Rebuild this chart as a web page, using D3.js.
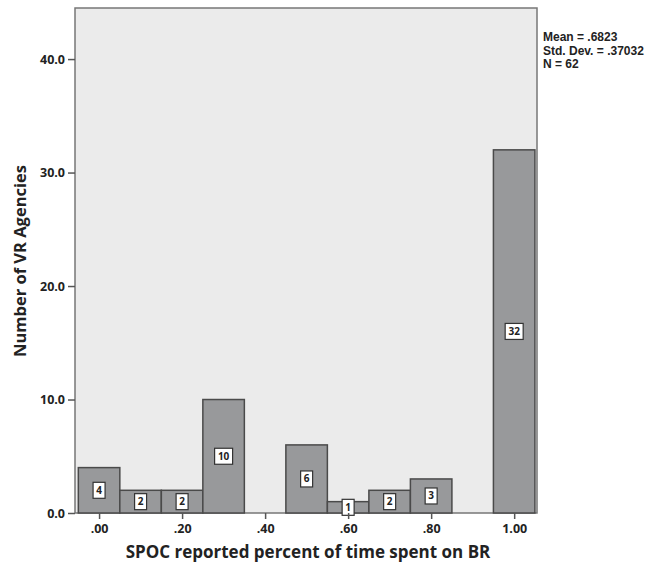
<!DOCTYPE html>
<meta charset="utf-8">
<style>
    html, body { margin: 0; padding: 0; background: #fff; }
    text { font-family: "Open Sans", "DejaVu Sans", sans-serif; font-weight: bold; fill: #222; }
</style>
<body>
<svg id="hist" width="659" height="566"></svg>
<script src="https://cdnjs.cloudflare.com/ajax/libs/d3/7.8.5/d3.min.js"></script>
<script>
  // bin centres and counts
  var binCenters = [0, 0.1, 0.2, 0.3, 0.4, 0.5, 0.6, 0.7, 0.8, 0.9, 1.0];
  var counts = [4, 2, 2, 10, 0, 6, 1, 2, 3, 0, 32];
  var xTicks = [0, 0.2, 0.4, 0.6, 0.8, 1.0];
  var xTickLabels = [".00", ".20", ".40", ".60", ".80", "1.00"];
  var yTicks = [0, 10, 20, 30, 40];
  var stats = ["Mean = .6823", "Std. Dev. = .37032", "N = 62"];

  var binWidth = 0.1;
  // (don't use "top" - it's window.top)
  var plotLeft = 75, plotRight = 537, plotTop = 8, plotBottom = 513;

  var svg = d3.select("#hist");

  var x = d3.scaleLinear().domain([-0.058, 1.055]).range([plotLeft, plotRight]);
  var y = d3.scaleLinear().domain([0, 44.5]).range([plotBottom, plotTop]);

  // plot panel
  svg.append("rect")
    .attr("x", plotLeft).attr("y", plotTop)
    .attr("width", plotRight - plotLeft).attr("height", plotBottom - plotTop)
    .attr("fill", "#ebebeb")
    .attr("stroke", "#777")
    .attr("stroke-width", 1.5);

  var data = binCenters.map(function (c, i) { return {c: c, n: counts[i]}; })
    .filter(function (d) { return d.n > 0; });

  svg.selectAll("rect.bar")
    .data(data)
    .enter().append("rect")
    .attr("class", "bar")
    .attr("x", function (d) { return x(d.c - binWidth / 2); })
    .attr("y", function (d) { return y(d.n); })
    .attr("width", function (d) { return x(d.c + binWidth / 2) - x(d.c - binWidth / 2); })
    .attr("height", function (d) { return y(0) - y(d.n); })
    .attr("fill", "#98999b")
    .attr("stroke", "#4a4a4a")
    .attr("stroke-width", 1.5);

  // count labels in white boxes
  var lab = svg.selectAll("g.lab")
    .data(data)
    .enter().append("g")
    .attr("class", "lab")
    .attr("transform", function (d) { return "translate(" + x(d.c) + "," + y(d.n / 2) + ")"; });

  lab.append("rect")
    .attr("x", function (d) { return d.n >= 10 ? -9 : -6; })
    .attr("y", -8)
    .attr("width", function (d) { return d.n >= 10 ? 18 : 12; })
    .attr("height", 16)
    .attr("fill", "#fff")
    .attr("stroke", "#333")
    .attr("stroke-width", 1.2);

  lab.append("text")
    .attr("text-anchor", "middle")
    .attr("dy", "0.35em")
    .style("font-size", "10px")
    .text(function (d) { return d.n; });

  // y axis
  var yAxis = svg.append("g")
    .attr("transform", "translate(" + plotLeft + ",0)")
    .call(d3.axisLeft(y).tickValues(yTicks).tickFormat(d3.format(".1f")).tickSize(7).tickPadding(3));
  yAxis.select(".domain").remove();
  yAxis.selectAll("line").attr("stroke", "#555").attr("stroke-width", 1.5);
  yAxis.selectAll("text").style("font-size", "12.5px").style("font-family", "'Open Sans', sans-serif").style("font-weight", "bold").attr("fill", "#222");

  // x axis
  var xAxis = svg.append("g")
    .attr("transform", "translate(0," + plotBottom + ")")
    .call(d3.axisBottom(x).tickValues(xTicks).tickFormat(function (d, i) { return xTickLabels[i]; }).tickSize(6).tickPadding(5));
  xAxis.select(".domain").remove();
  xAxis.selectAll("line").attr("stroke", "#555").attr("stroke-width", 1.5);
  xAxis.selectAll("text").style("font-size", "12.5px").style("font-family", "'Open Sans', sans-serif").style("font-weight", "bold").attr("fill", "#222");

  // axis titles
  svg.append("text")
    .attr("x", 308).attr("y", 558)
    .attr("text-anchor", "middle")
    .style("font-size", "17px")
    .text("SPOC reported percent of time spent on BR");

  svg.append("text")
    .attr("transform", "translate(26,261) rotate(-90)")
    .attr("text-anchor", "middle")
    .style("font-size", "16.5px")
    .text("Number of VR Agencies");

  // stats box - Liberation Sans has tighter line metrics, keeps lines close
  svg.selectAll("text.stat")
    .data(stats)
    .enter().append("text")
    .attr("class", "stat")
    .attr("x", 543)
    .attr("y", function (d, i) { return 41 + i * 13.5; })
    .style("font-family", "'Liberation Sans', Arial, sans-serif")
    .style("font-size", "12px")
    .text(function (d) { return d; });
</script>
</body>
